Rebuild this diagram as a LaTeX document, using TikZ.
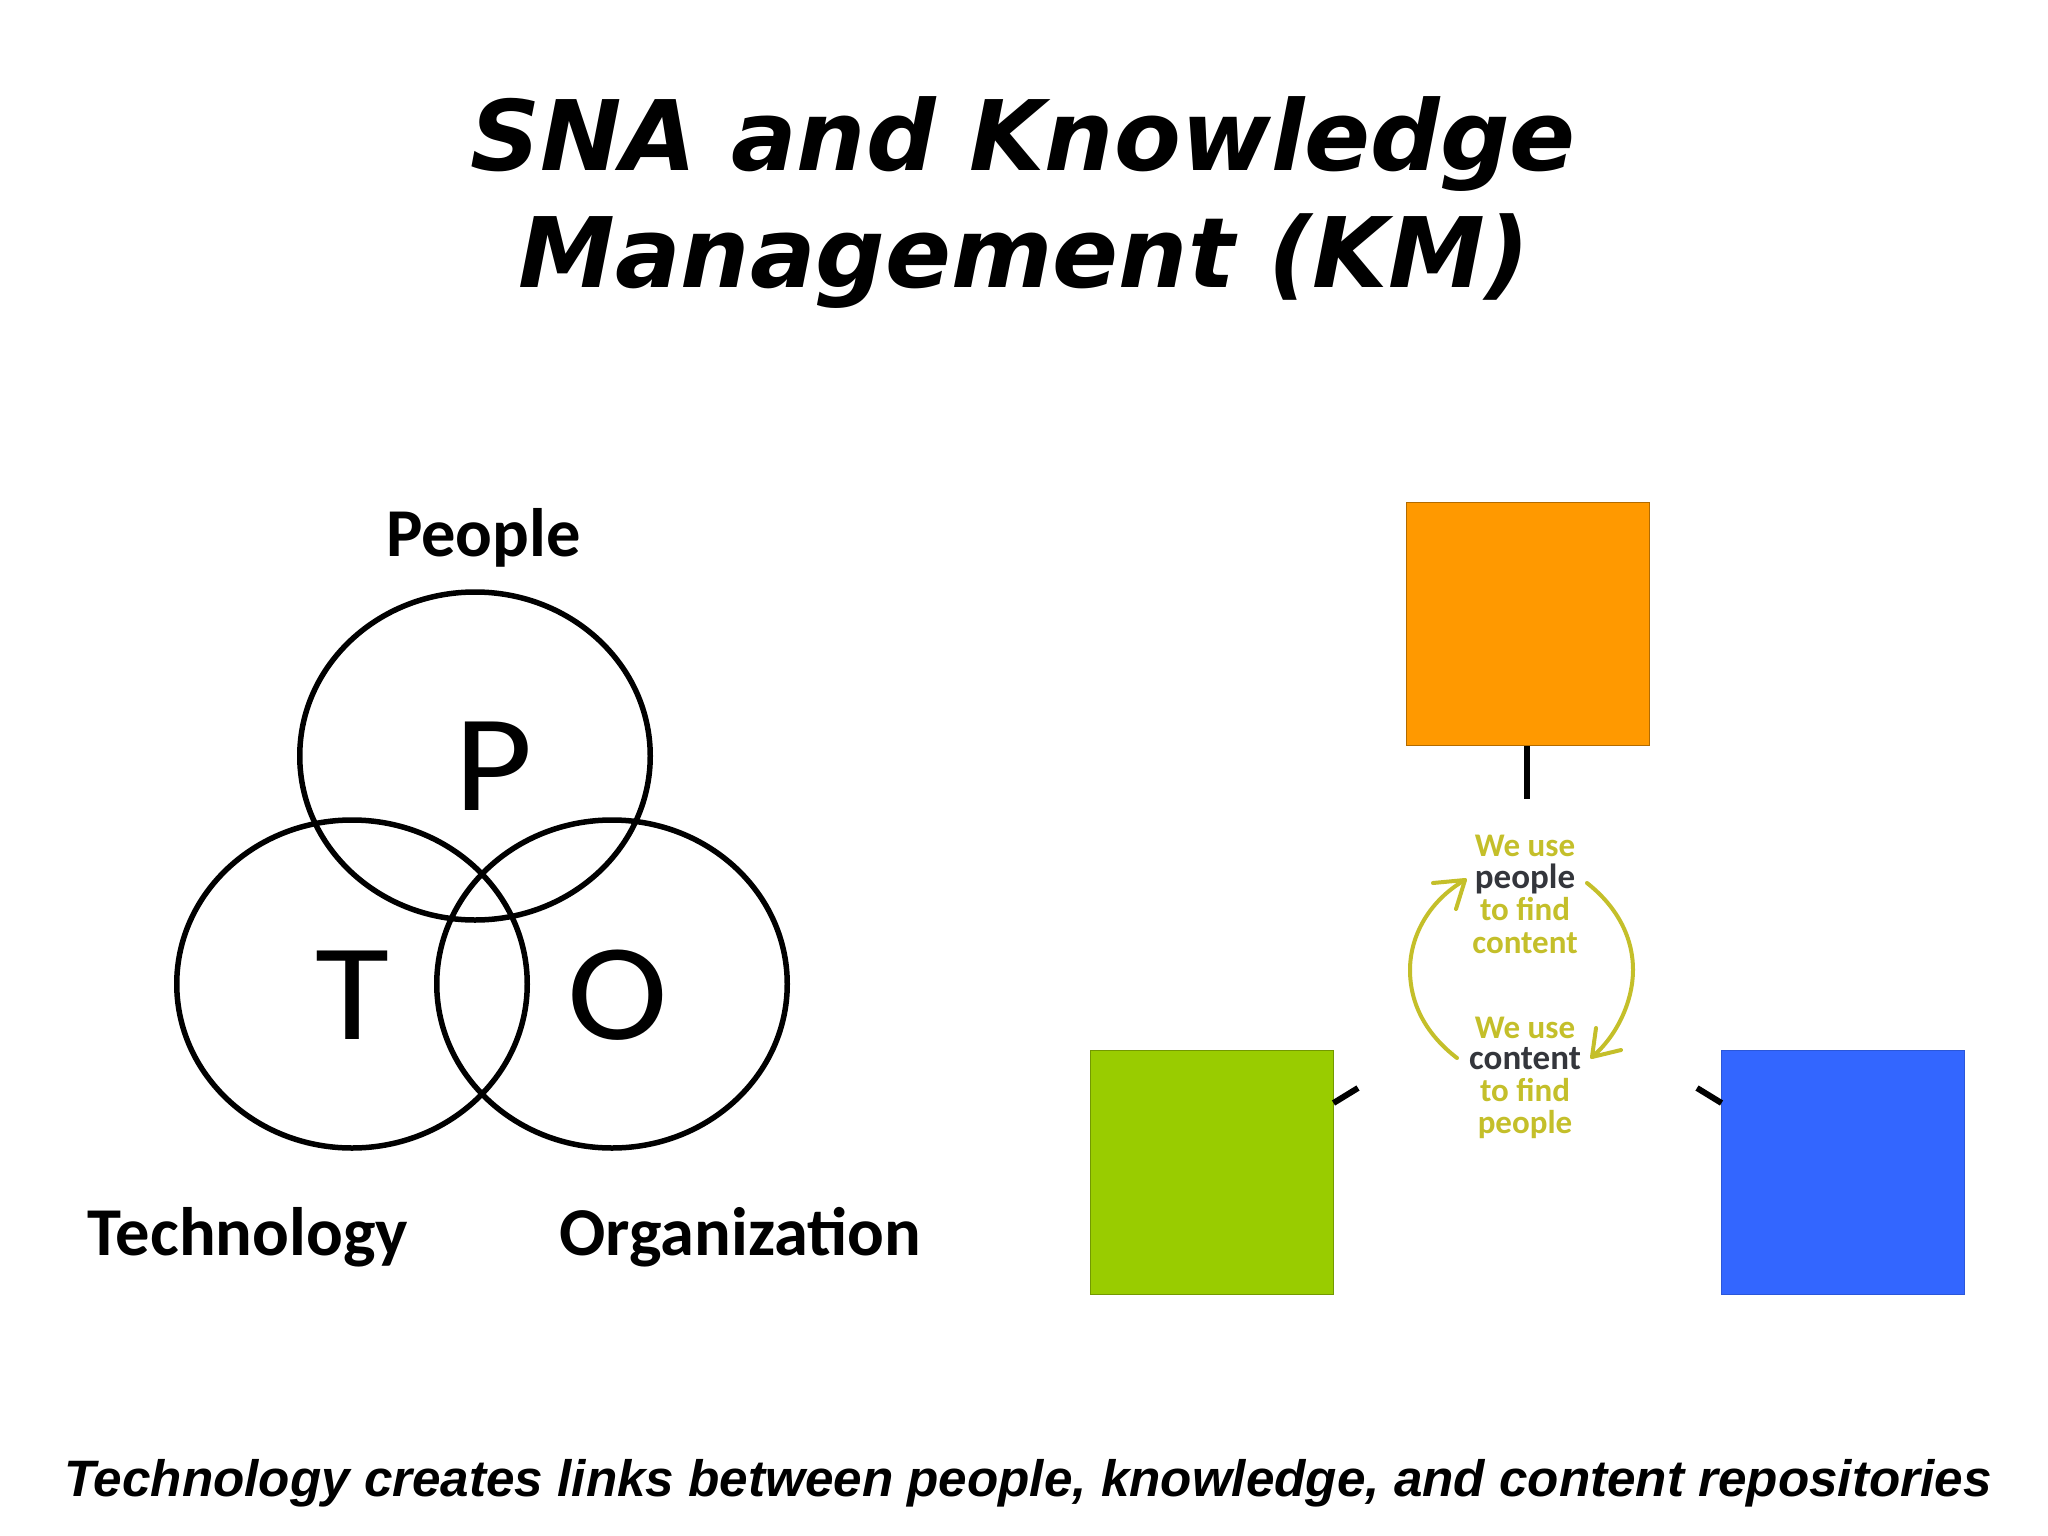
\documentclass[tikz,border=0pt]{standalone}
\usepackage{fontspec}
\usepackage{graphicx}
\usetikzlibrary{shapes.geometric}
\setmainfont{Carlito}
\newfontfamily\titlefont{DejaVu Sans}
\newfontfamily\capfont{Liberation Sans}
\definecolor{olivey}{HTML}{C4BF2A}
\definecolor{darkt}{HTML}{34363C}
\definecolor{orangebox}{HTML}{FF9900}
\definecolor{greenbox}{HTML}{99CC00}
\definecolor{bluebox}{HTML}{3366FF}
\newcommand{\widen}[1]{\scalebox{1.1}[1]{#1}}
\tikzset{
  txt/.style={anchor=base,inner sep=0,outer sep=0,text=black},
  titletxt/.style={txt,font=\titlefont\fontsize{97.3}{97.3}\selectfont\bfseries\itshape},
  labeltxt/.style={txt,font=\fontsize{68.5}{68.5}\selectfont\bfseries},
  lettertxt/.style={txt,font=\fontsize{138}{138}\selectfont},
  captxt/.style={txt,font=\capfont\fontsize{51.2}{51.2}\selectfont\bfseries\itshape},
  cyctxt/.style={txt,font=\fontsize{33}{33}\selectfont\bfseries,text=olivey},
  cycdark/.style={txt,font=\fontsize{35}{35}\selectfont\bfseries,text=darkt},
  ring/.style={draw=black,line width=5.5pt,ellipse,inner sep=0,outer sep=0,minimum width=350.5pt,minimum height=328pt},
  boxs/.style={rectangle,inner sep=0,outer sep=0,minimum width=243pt,minimum height=243.5pt,line width=1pt},
  stub/.style={draw=black,line width=6pt},
  cycarrow/.style={draw=olivey,line width=4pt,line cap=round,line join=round}
}
\begin{document}
\begin{tikzpicture}[x=1pt,y=-1pt]
\useasboundingbox (0,0) rectangle (2048,1536);
\fill[white] (0,0) rectangle (2048,1536);
\node[titletxt] (t1) at (1023,170) {SNA and Knowledge};
\node[titletxt] (t2) at (1024,287) {Management (KM)};
\node[ring] (rp) at (475,756) {};
\node[ring] (rt) at (352,984) {};
\node[ring] (ro) at (612,984) {};
\node[labeltxt] (lp) at (483.5,556) {People};
\node[labeltxt] (lt) at (248,1255) {Technology};
\node[labeltxt] (lo) at (740.5,1255) {Organization};
\node[lettertxt] (cp) at (494,810) {\widen{P}};
\node[lettertxt] (ct) at (352,1039) {\widen{T}};
\node[lettertxt] (co) at (618,1039) {\widen{O}};
\node[boxs,fill=orangebox,draw=orangebox!70!black] (bo) at (1527.5,624) {};
\node[boxs,fill=greenbox,draw=greenbox!75!black] (bg) at (1212,1172.5) {};
\node[boxs,fill=bluebox,draw=bluebox!85!black] (bb) at (1843,1172.5) {};
\coordinate (so) at (1527,799);
\coordinate (sg0) at (1333.5,1103);
\coordinate (sg) at (1358,1088);
\coordinate (sb0) at (1721.5,1103);
\coordinate (sb) at (1697,1088);
\draw[stub] (bo.south -| so) -- (so);
\draw[stub] (sg0) -- (sg);
\draw[stub] (sb0) -- (sb);
\node[cyctxt] (y1) at (1525,856) {We use};
\node[cycdark] (y2) at (1525,888) {people};
\node[cyctxt] (y3) at (1525,920) {to find};
\node[cyctxt] (y4) at (1525,953) {content};
\node[cyctxt] (y5) at (1525,1038) {We use};
\node[cycdark] (y6) at (1525,1069) {content};
\node[cyctxt] (y7) at (1525,1101) {to find};
\node[cyctxt] (y8) at (1525,1133) {people};
\draw[cycarrow] (1457,1058) .. controls (1427,1035) and (1410,1005) .. (1410,970) .. controls (1410,935) and (1430,900) .. (1465,880);
\draw[cycarrow] (1433,883) -- (1465,880) -- (1456,909);
\draw[cycarrow] (1587,883) .. controls (1615,905) and (1633,935) .. (1633,970) .. controls (1633,1000) and (1618,1035) .. (1592,1057);
\draw[cycarrow] (1596,1028) -- (1592,1057) -- (1621,1050);
\node[captxt] (cap) at (1028,1496) {Technology creates links between people, knowledge, and content repositories};
\end{tikzpicture}
\end{document}
